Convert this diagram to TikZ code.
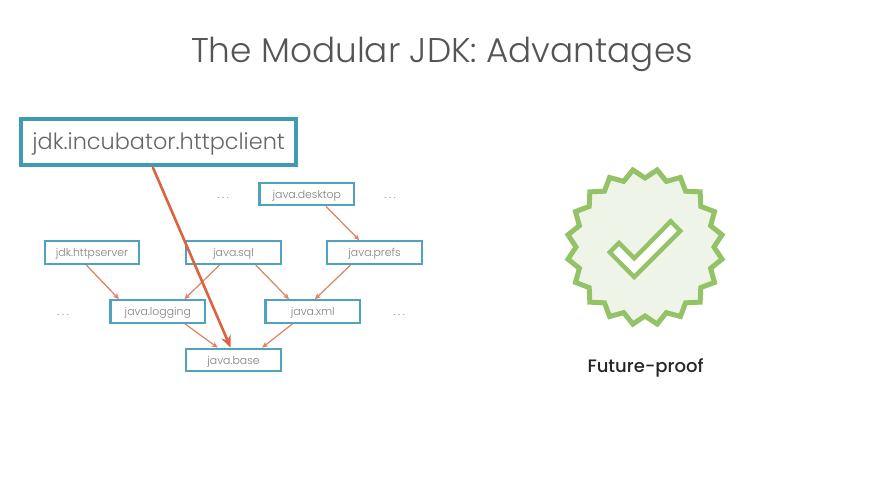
\documentclass[tikz,border=0pt]{standalone}
\usepackage{fontspec}
\setmainfont{Poppins}
\newfontfamily\lightface{Poppins Light}
\newfontfamily\mediumface{Poppins Medium}
\usetikzlibrary{arrows.meta}
\definecolor{modblue}{HTML}{4FA3BC}
\definecolor{bigblue}{HTML}{3F9BB3}
\definecolor{deporange}{HTML}{E2805F}
\definecolor{strongorange}{HTML}{DE6240}
\definecolor{labelgray}{HTML}{808080}
\definecolor{titlegray}{HTML}{555555}
\definecolor{badgegreen}{HTML}{94C266}
\definecolor{badgefill}{HTML}{EEF4E7}
\tikzset{
  x=1pt,y=-1pt,
  modbox/.style={draw=modblue,line width=2.2pt,minimum width=94.5pt,minimum height=22.5pt,inner sep=0pt,font=\lightface\fontsize{10.9}{12}\selectfont,text=labelgray,text depth=0pt,text height=8pt},
  dep/.style={draw=deporange,line width=1.2pt,-{Stealth[length=6pt,width=5.5pt]}},
  dots/.style={anchor=base,font=\lightface\fontsize{11}{12}\selectfont\addfontfeature{LetterSpace=25},text=labelgray},
}
\begin{document}
\begin{tikzpicture}
\useasboundingbox (0,0) rectangle (880,491);
\fill[white] (0,0) rectangle (880,491);

\node[anchor=base,font=\lightface\fontsize{34.3}{40}\selectfont,text=titlegray] (title) at (442,62) {The Modular JDK: Advantages};

\node[draw=bigblue,line width=4pt,minimum width=275pt,minimum height=46pt,inner sep=0pt,font=\lightface\fontsize{22.4}{26}\selectfont,text=titlegray!90,text depth=0pt,text height=14pt] (client) at (158.7,142) {jdk.incubator.httpclient};

\node[modbox] (desktop) at (306.8,194) {java.desktop};
\node[modbox] (httpserver) at (92,252.5) {jdk.httpserver};
\node[modbox] (sql) at (233.5,252.5) {java.sql};
\node[modbox] (prefs) at (374.6,252.5) {java.prefs};
\node[modbox] (logging) at (157.8,311.5) {java.logging};
\node[modbox] (xml) at (312.8,311.5) {java.xml};
\node[modbox] (base) at (233.5,360) {java.base};

\node[dots] (d1) at (223,198) {...};
\node[dots] (d2) at (390,198) {...};
\node[dots] (d3) at (63,315) {...};
\node[dots] (d4) at (399,315) {...};

\draw[dep] ([xshift=67.5pt]desktop.south west) -- ([xshift=33pt]prefs.north west);
\draw[dep] ([xshift=42.5pt]httpserver.south west) -- ([xshift=9.5pt]logging.north west);
\draw[dep] ([xshift=34.5pt]sql.south west) -- ([xshift=75pt]logging.north west);
\draw[dep] ([xshift=70.5pt]sql.south west) -- ([xshift=24.5pt]xml.north west);
\draw[dep] ([xshift=24.5pt]prefs.south west) -- ([xshift=50.5pt]xml.north west);
\draw[dep] ([xshift=75.5pt]logging.south west) -- ([xshift=32.5pt]base.north west);
\draw[dep] ([xshift=28pt]xml.south west) -- ([xshift=77pt]base.north west);
\draw[draw=strongorange,line width=2.6pt,-{Stealth[length=12pt,width=10pt]}] ([xshift=133.5pt]client.south west) -- ([xshift=45.5pt]base.north west);

% Seal with twenty points and a check mark
\filldraw[draw=badgegreen,fill=badgefill,line width=5pt,miter limit=3]
  plot[samples at={0,...,39},variable=\k] ({645+(mod(\k,2)==0 ? 78 : 69)*sin(9+9*\k)},{247-(mod(\k,2)==0 ? 78 : 69)*cos(9+9*\k)}) -- cycle;
\filldraw[draw=badgegreen,fill=white,line width=4.4pt,miter limit=6]
  (670.7,221.3) -- (680.3,231) -- (634.3,277) -- (609.7,252.3) -- (619,243) -- (634.3,258.3) -- cycle;

\node[anchor=base,font=\mediumface\fontsize{18}{21}\selectfont,text=black!85] (caption) at (645.5,372.5) {Future-proof};
\end{tikzpicture}
\end{document}
